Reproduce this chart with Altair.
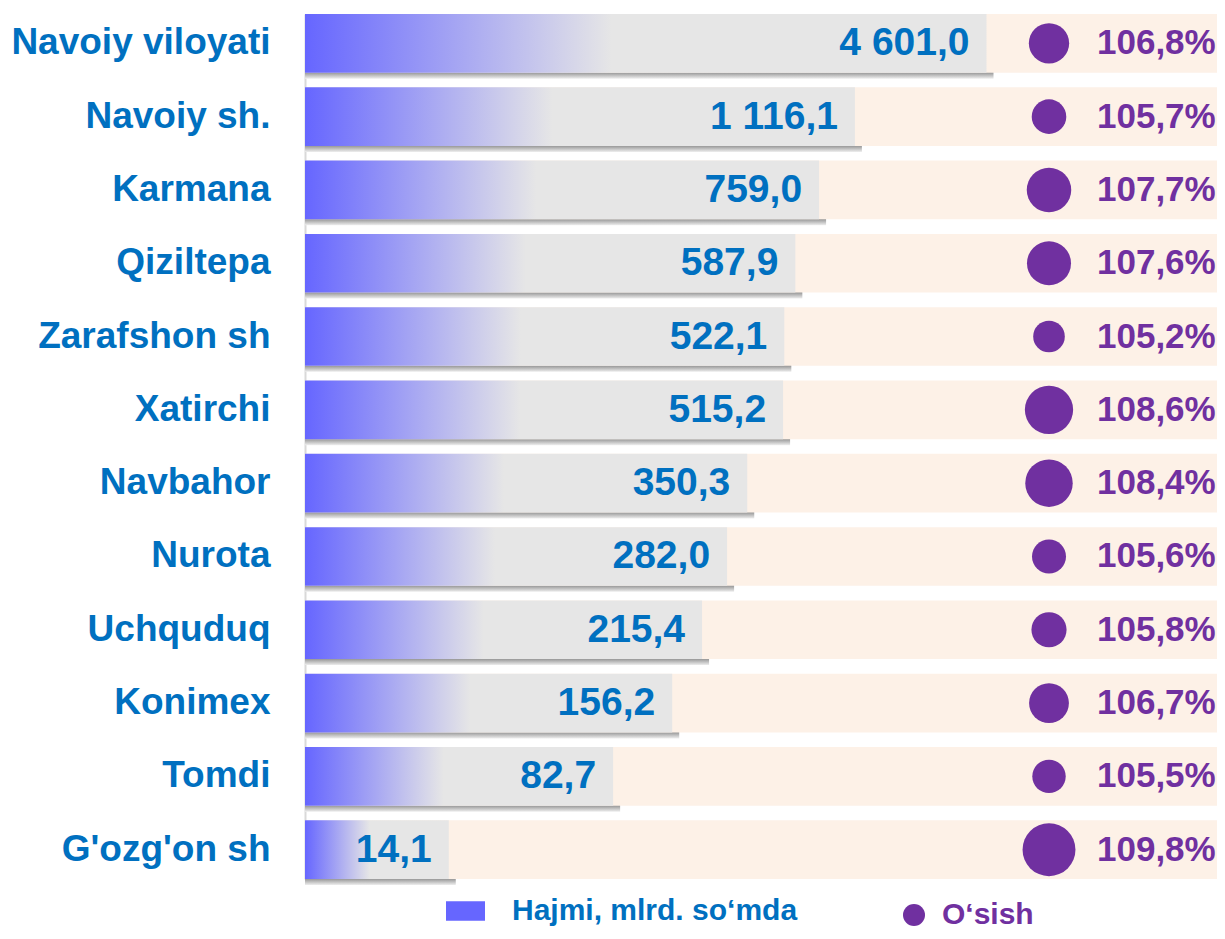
import altair as alt
import pandas as pd

# ---- data ----
districts = ["Navoiy viloyati", "Navoiy sh.", "Karmana", "Qiziltepa", "Zarafshon sh",
             "Xatirchi", "Navbahor", "Nurota", "Uchquduq", "Konimex", "Tomdi", "G'ozg'on sh"]
volume = [4601.0, 1116.1, 759.0, 587.9, 522.1, 515.2, 350.3, 282.0, 215.4, 156.2, 82.7, 14.1]
growth = [106.8, 105.7, 107.7, 107.6, 105.2, 108.6, 108.4, 105.6, 105.8, 106.7, 105.5, 109.8]
legend_items = ["Hajmi, mlrd. so‘mda", "O‘sish"]


def fmt_volume(v):
    return f"{v:,.1f}".replace(",", " ").replace(".", ",")


def fmt_growth(g):
    return f"{g:.1f}".replace(".", ",") + "%"


df = pd.DataFrame({
    "district": districts,
    "volume": volume,
    "growth": growth,
    "vol_label": [fmt_volume(v) for v in volume],
    "pct_label": [fmt_growth(g) for g in growth],
    "series": [legend_items[1]] * len(districts),
})
legend_df = pd.DataFrame({"series": [legend_items[0]]})

# ---- styling ----
W, H = 912, 865
FONT = "Liberation Sans"
BLUE = "#0070c0"
PURPLE = "#7030a0"
BAR_BLUE = "#6666ff"
GRAY = "#e6e6e6"
PEACH = "#fdf1e7"
X_MIN, X_MAX = 3, 55000

x_scale = alt.Scale(type="log", domain=[X_MIN, X_MAX], nice=False)
y_enc = alt.Y(
    "district:N", sort=districts,
    scale=alt.Scale(paddingInner=0.2, paddingOuter=0),
    axis=alt.Axis(title=None, ticks=False, labelPadding=35, labelFont=FONT,
                  labelFontSize=37, labelFontWeight="bold", labelColor=BLUE,
                  domainColor="#d9d9d9", domainWidth=2, labelLimit=500, grid=False),
)

bar_gradient = alt.Gradient(
    gradient="linear", x1=0, y1=0, x2=1, y2=0,
    stops=[alt.GradientStop(color=BAR_BLUE, offset=0),
           alt.GradientStop(color=GRAY, offset=0.45),
           alt.GradientStop(color=GRAY, offset=1)],
)
shadow_gradient = alt.Gradient(
    gradient="linear", x1=0, y1=0, x2=0, y2=1,
    stops=[alt.GradientStop(color="#8c8c8c", offset=0),
           alt.GradientStop(color="#9a9a9a", offset=0.9),
           alt.GradientStop(color="#eeeeee", offset=1)],
)

base = alt.Chart(df)

shadow = base.mark_bar(color=shadow_gradient, xOffset=7, x2Offset=6,
                       yOffset=6, y2Offset=6).encode(
    x=alt.X("volume:Q", scale=x_scale, axis=None, stack=None), y=y_enc)

band = base.mark_bar(color=PEACH).encode(
    x=alt.XDatum(X_MAX, type="quantitative", axis=None), y=y_enc)

bars = base.mark_bar(color=bar_gradient).encode(
    x=alt.X("volume:Q", scale=x_scale, axis=None, stack=None), y=y_enc)

values = base.mark_text(align="right", baseline="middle", dx=-17, font=FONT,
                        fontSize=39, fontWeight="bold", color=BLUE).encode(
    x=alt.X("volume:Q", scale=x_scale, axis=None, stack=None), y=y_enc,
    text="vol_label:N")

circles = base.mark_circle(opacity=1).encode(
    x=alt.value(744), y=y_enc,
    size=alt.Size("growth:Q", scale=alt.Scale(domain=[105.2, 109.8], range=[1000, 2800]),
                  legend=None),
    color=alt.Color("series:N",
                    scale=alt.Scale(domain=[legend_items[1]], range=[PURPLE]),
                    legend=alt.Legend(title=None, orient="none", legendX=594, legendY=886,
                                      symbolType="circle", symbolSize=484, symbolOpacity=1,
                                      symbolStrokeWidth=0, labelFont=FONT, labelFontSize=30,
                                      labelFontWeight="bold", labelColor=PURPLE,
                                      labelOffset=13, padding=0, labelLimit=500)),
)

pct = base.mark_text(align="left", baseline="middle", font=FONT, fontSize=35,
                     fontWeight="bold", color=PURPLE).encode(
    x=alt.value(792), y=y_enc, text="pct_label:N")

legend_layer = alt.Chart(legend_df).mark_point(opacity=0, filled=True).encode(
    color=alt.Color("series:N",
                    scale=alt.Scale(domain=[legend_items[0]], range=[BAR_BLUE]),
                    legend=alt.Legend(title=None, orient="none", legendX=141, legendY=877.5,
                                      symbolType="M-1,-0.5H1V0.5H-1Z", symbolSize=1521,
                                      symbolOpacity=1, symbolStrokeWidth=0,
                                      labelFont=FONT, labelFontSize=30,
                                      labelFontWeight="bold", labelColor=BLUE,
                                      labelOffset=27, padding=0, labelLimit=500)),
)

chart = alt.layer(shadow, band, bars, values, circles, pct, legend_layer).resolve_scale(
    color="independent", size="independent"
).properties(
    width=W, height=H,
    padding={"left": 297, "top": 6, "right": 0, "bottom": 51},
    autosize=alt.AutoSizeParams(type="none"),
    background="white",
).configure_view(stroke=None)

chart.save("out.html", embed_options={"renderer": "svg", "actions": False})
